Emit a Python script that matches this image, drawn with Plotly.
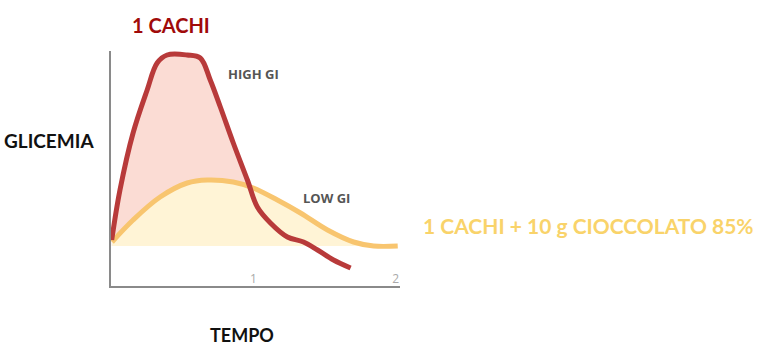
import plotly.graph_objects as go

# Data (x in time units, y in arbitrary glycemia units)
high_x = [0.005, 0.063, 0.155, 0.254, 0.324, 0.394, 0.535, 0.627, 0.697, 0.768, 0.859,
          0.958, 1.028, 1.120, 1.239, 1.352, 1.451, 1.563, 1.683]
high_y = [46, 96, 153, 196, 223, 231, 231, 228, 206, 179, 143, 106, 79, 63, 49, 44, 36, 26, 18]

low_x = [0.007, 0.155, 0.345, 0.535, 0.676, 0.859, 1.0, 1.169, 1.331, 1.521, 1.704, 1.845, 2.014]
low_y = [44, 66, 89, 103, 106, 104, 98, 86, 73, 56, 44, 40, 40]

fill_base = 40
tick_vals = [1, 2]
tick_text = ["1", "2"]

RED = "#b83a3a"
YEL = "#f8c56f"

# plot area geometry in pixels
L, R, T, B = 111, 400, 51, 286


def px(xp, yp):
    return (xp - L) / (R - L), (B - yp) / (B - T)


n_fill = 16  # red points above the fill baseline

fig = go.Figure()
# red fill (pink) down to baseline
fig.add_trace(go.Scatter(x=high_x[:n_fill], y=[fill_base] * n_fill, mode="lines",
                         line=dict(width=0), showlegend=False, hoverinfo="skip"))
fig.add_trace(go.Scatter(x=high_x[:n_fill], y=high_y[:n_fill], mode="lines",
                         line=dict(width=0, shape="spline"),
                         fill="tonexty", fillcolor="rgba(250,208,198,0.75)",
                         showlegend=False, hoverinfo="skip"))
# yellow fill down to baseline
fig.add_trace(go.Scatter(x=low_x, y=[fill_base] * len(low_x), mode="lines",
                         line=dict(width=0), showlegend=False, hoverinfo="skip"))
fig.add_trace(go.Scatter(x=low_x, y=low_y, mode="lines", line=dict(width=0, shape="spline"),
                         fill="tonexty", fillcolor="rgba(255,244,214,1)",
                         showlegend=False, hoverinfo="skip"))
# lines
fig.add_trace(go.Scatter(x=low_x, y=low_y, mode="lines",
                         line=dict(color=YEL, width=5, shape="spline"), showlegend=False))
fig.add_trace(go.Scatter(x=high_x, y=high_y, mode="lines",
                         line=dict(color=RED, width=5, shape="spline"), showlegend=False))


def ann(text, xp, yp, size, color, family="Lato"):
    x, y = px(xp, yp)
    return dict(text=text, xref="paper", yref="paper", x=x, y=y, xanchor="left",
                yanchor="middle", showarrow=False,
                font=dict(family=family, size=size, color=color))


fig.update_layout(
    width=758, height=345,
    margin=dict(l=L, r=758 - R, t=T, b=345 - B),
    paper_bgcolor="white", plot_bgcolor="white",
    xaxis=dict(range=[0, 2.03], showgrid=False, zeroline=False, showline=True,
               linecolor="#8a8a8a", linewidth=2, tickvals=tick_vals, ticktext=tick_text,
               ticks="", ticklabelposition="inside",
               tickfont=dict(family="Open Sans", size=12, color="#aaaaaa")),
    yaxis=dict(range=[0, 235], showgrid=False, zeroline=False, showline=True,
               linecolor="#8a8a8a", linewidth=2, showticklabels=False, ticks=""),
    font=dict(family="Lato"),
    annotations=[
        ann("<b>1 CACHI</b>", 130, 25, 20, "#a00a0a"),
        ann("<b>HIGH GI</b>", 226, 74, 13, "#555555", "Open Sans"),
        ann("<b>LOW GI</b>", 301, 198, 13, "#555555", "Open Sans"),
        ann("<b>GLICEMIA</b>", 2, 140, 19, "#111111"),
        ann("<b>TEMPO</b>", 208, 335, 18, "#111111"),
        ann("<b>1 CACHI + 10 g CIOCCOLATO 85%</b>", 421, 225, 21, "#f9d36a"),
    ],
)

fig.write_html("out.html")
